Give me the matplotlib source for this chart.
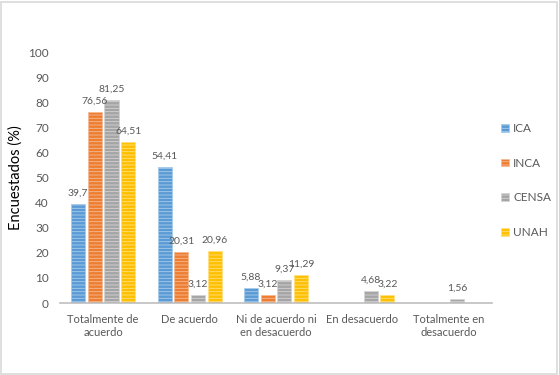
import numpy as np
import matplotlib

matplotlib.use("Agg")
import matplotlib.pyplot as plt

plt.rcParams["font.family"] = ["Lato", "DejaVu Sans"]
plt.rcParams["hatch.linewidth"] = 0.6

categories = ["Totalmente de\nacuerdo", "De acuerdo", "Ni de acuerdo ni\nen desacuerdo",
              "En desacuerdo", "Totalmente en\ndesacuerdo"]
series = ["ICA", "INCA", "CENSA", "UNAH"]
ica = [39.7, 54.41, 5.88, 0, 0]
inca = [76.56, 20.31, 3.12, 0, 0]
censa = [81.25, 3.12, 9.37, 4.68, 1.56]
unah = [64.51, 20.96, 11.29, 3.22, 0]
labels = [
    ["39,7", "54,41", "5,88", "", ""],
    ["76,56", "20,31", "3,12", "", ""],
    ["81,25", "3,12", "9,37", "4,68", "1,56"],
    ["64,51", "20,96", "11,29", "3,22", ""],
]
colors = ["#5B9BD5", "#ED7D31", "#A5A5A5", "#FFC000"]
hatch_colors = ["#A9CBEB", "#F6BB95", "#D4D4D4", "#FFDF80"]

fig = plt.figure(figsize=(5.59, 3.75), dpi=100)
ax = fig.add_axes([0.1073, 0.192, 0.7727, 0.667])

x = np.arange(len(categories))
step = 0.193
width = 0.163
for i, (vals, name) in enumerate(zip([ica, inca, censa, unah], series)):
    pos = x + (i - 1.5) * step
    bars = ax.bar(pos, vals, width, color=colors[i], edgecolor=hatch_colors[i],
                  hatch="-----", linewidth=0.6, label=name)
    for b, v, t in zip(bars, vals, labels[i]):
        if t:
            ax.text(b.get_x() + b.get_width() / 2, v + 2.5, t, ha="center", va="bottom",
                    fontsize=7.5, color="#595959")

ax.set_xlim(-0.5, len(categories) - 0.5)
ax.set_ylim(0, 100)
ax.set_yticks(range(0, 101, 10))
ax.set_xticks(x)
ax.set_xticklabels(categories, fontsize=8, color="#595959")
ax.tick_params(axis="y", labelsize=8.5, labelcolor="#595959", length=0, pad=8)
ax.tick_params(axis="x", length=0, pad=8)
for s in ["top", "right", "left"]:
    ax.spines[s].set_visible(False)
ax.spines["bottom"].set_color("#BFBFBF")
ax.spines["bottom"].set_linewidth(1.2)
ax.set_ylabel("Encuestados (%)", fontsize=10.5, color="black", labelpad=4)

leg = fig.legend(loc="upper left", bbox_to_anchor=(0.878, 0.7), frameon=False,
                 fontsize=8.5, handlelength=0.6, handleheight=0.6, handletextpad=0.4,
                 labelspacing=2.0, labelcolor="#595959")

fig.patches.append(plt.Rectangle((0.002, 0.003), 0.995, 0.993, transform=fig.transFigure,
                                 fill=False, edgecolor="#D9D9D9", linewidth=1.2))
fig.savefig("out.png", dpi=100)
